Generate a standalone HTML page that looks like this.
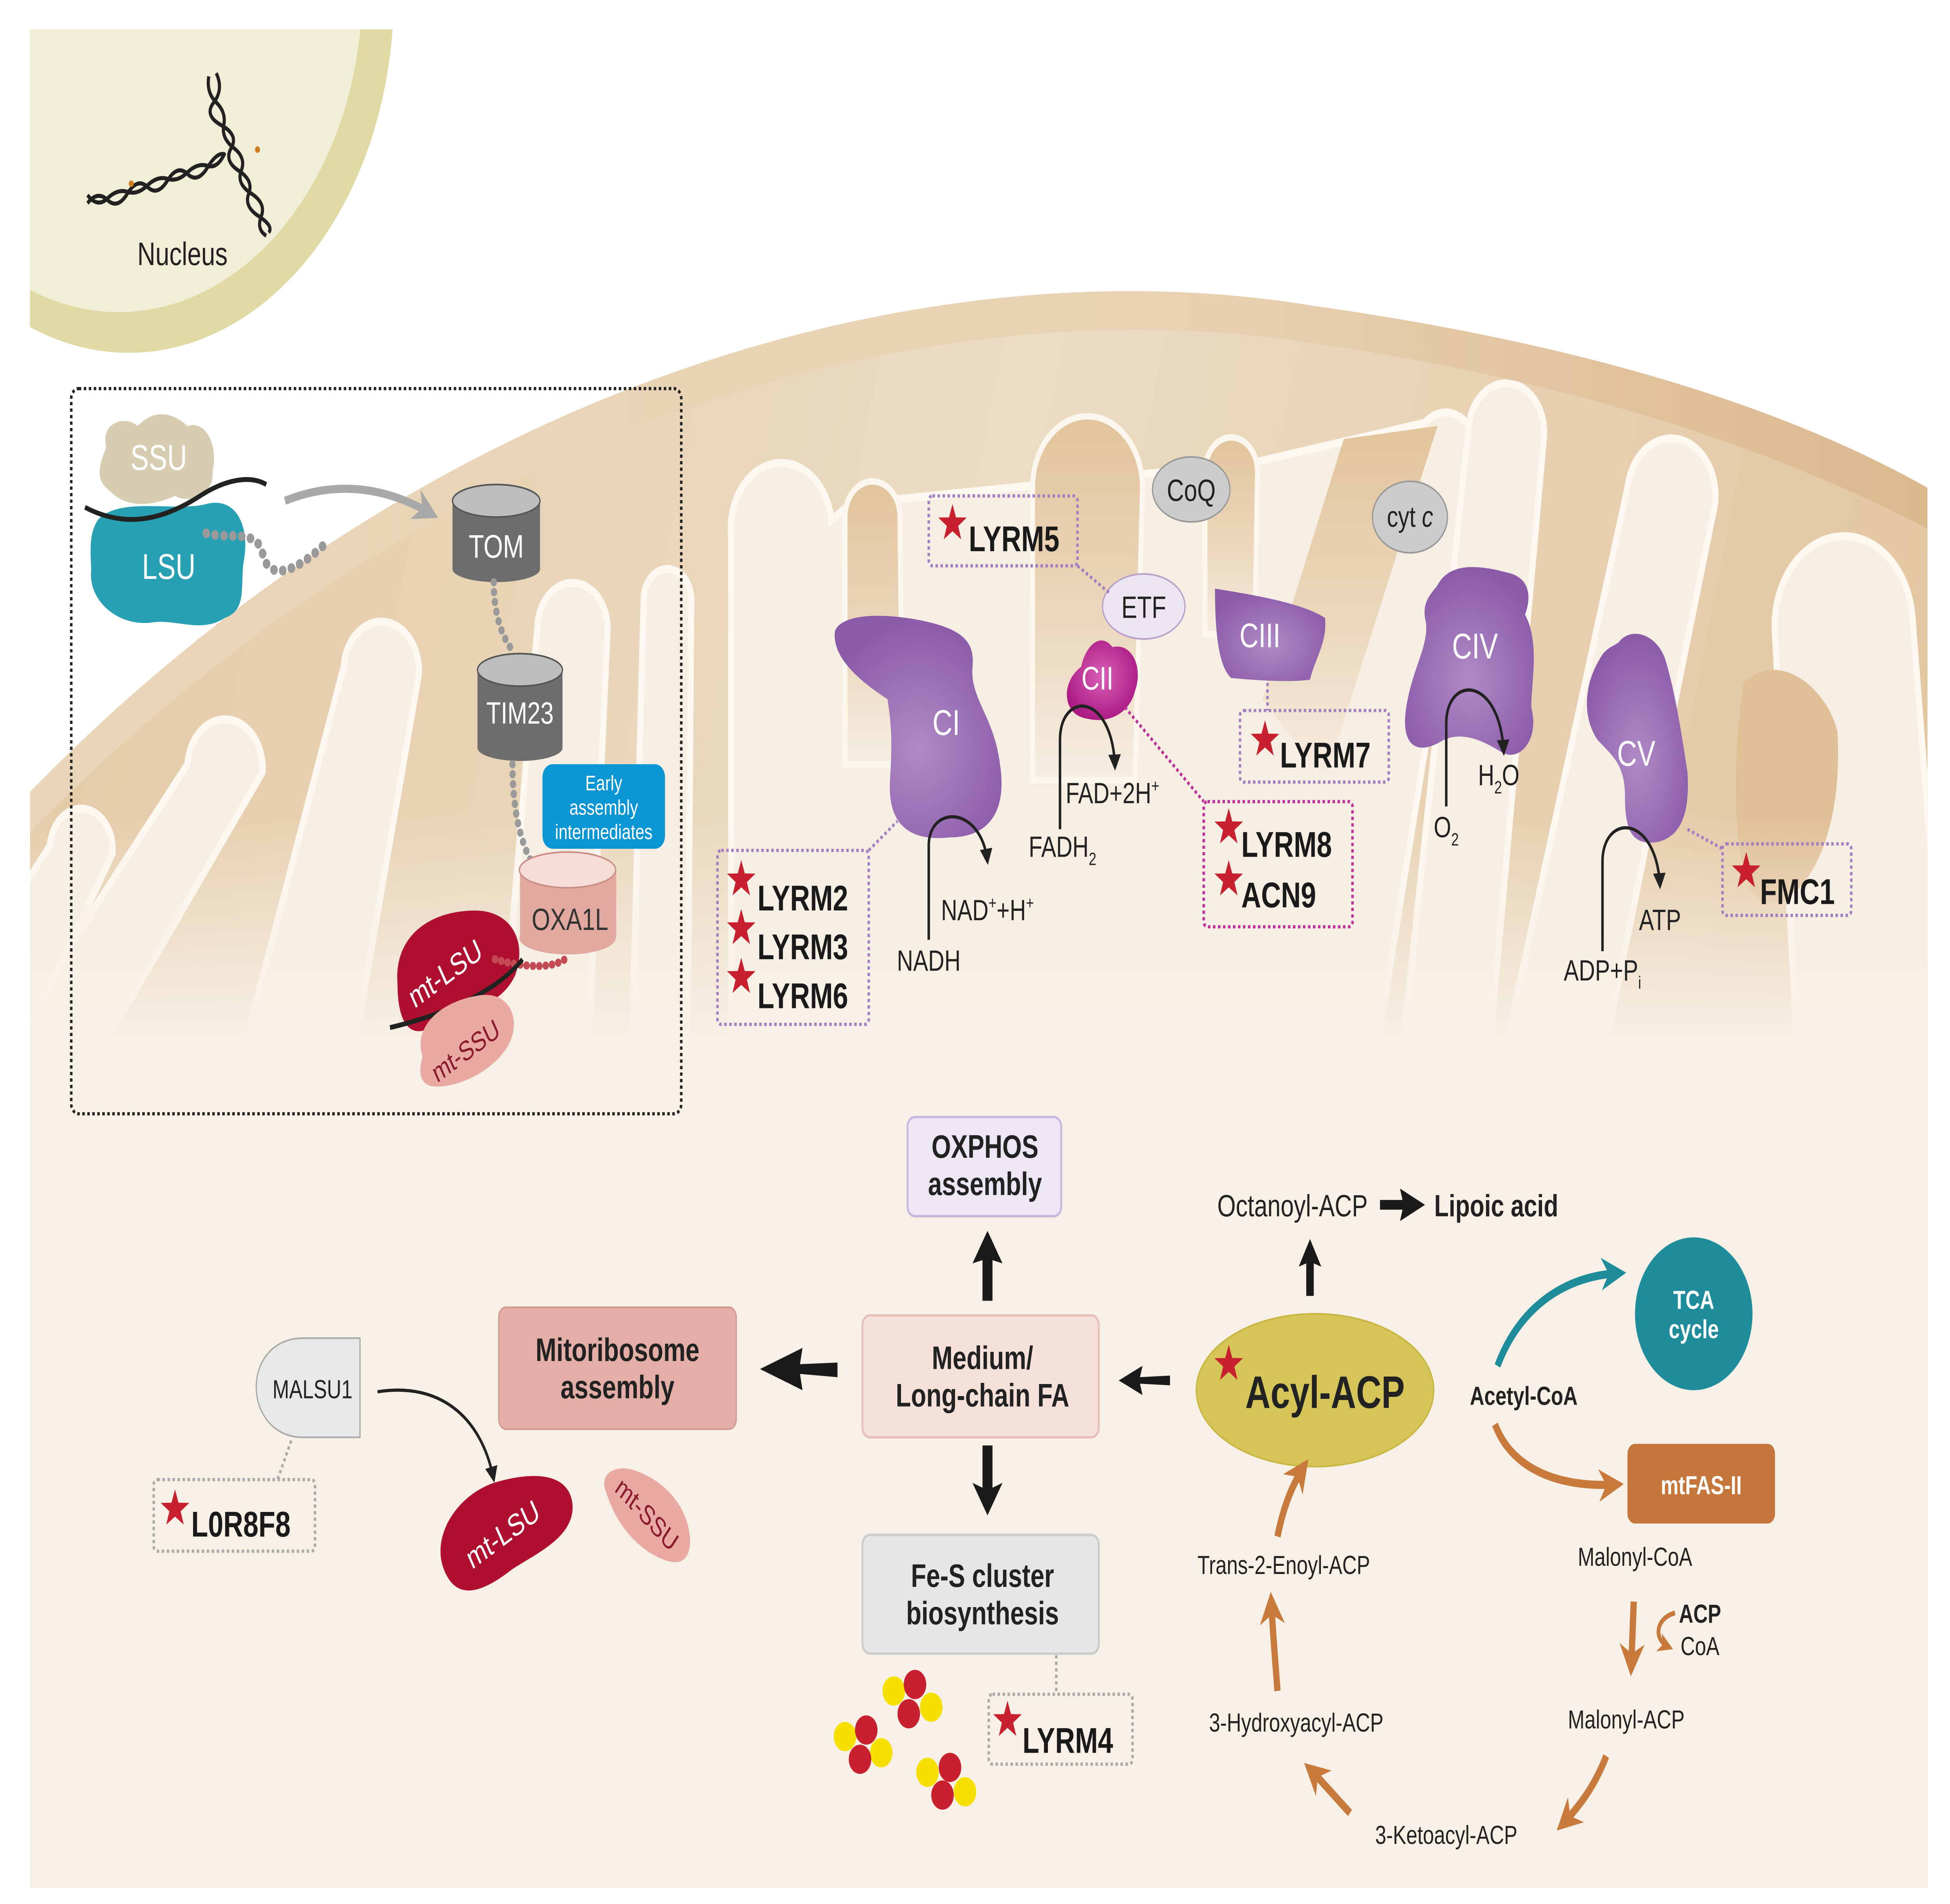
<!DOCTYPE html>
<html><head><meta charset="utf-8"><style>
html,body{margin:0;padding:0;background:#fff;overflow:hidden;width:100vw;height:100vh}
svg{display:block;position:absolute;left:0;top:0;width:100vw;height:100vh}
text{font-family:"Liberation Sans",sans-serif}
</style></head><body>
<svg viewBox="0 0 1560 1171" preserveAspectRatio="none" xmlns="http://www.w3.org/2000/svg">
<defs>
<linearGradient id="band" x1="0" y1="0" x2="1" y2="0"><stop offset="0" stop-color="#e9d5b8"/><stop offset="0.6" stop-color="#e8d2b3"/><stop offset="1" stop-color="#dcb88e"/></linearGradient>
<linearGradient id="inner" gradientUnits="userSpaceOnUse" x1="0" y1="200" x2="1560" y2="600"><stop offset="0" stop-color="#e4c9a4"/><stop offset="0.5" stop-color="#ecdcc4"/><stop offset="1" stop-color="#e2c59e"/></linearGradient>
<linearGradient id="fin" x1="0" y1="0" x2="0" y2="1"><stop offset="0" stop-color="#e2c49c"/><stop offset="0.6" stop-color="#ecd9bf"/><stop offset="1" stop-color="#f6eee3"/></linearGradient>
<linearGradient id="fade" x1="0" y1="0" x2="0" y2="1"><stop offset="0" stop-color="#f7f0e6" stop-opacity="0"/><stop offset="1" stop-color="#f7f0e6" stop-opacity="1"/></linearGradient>
<radialGradient id="purp" cx="0.5" cy="0.6" r="0.6"><stop offset="0" stop-color="#b08ac6"/><stop offset="1" stop-color="#8a5aa8"/></radialGradient>
<radialGradient id="mag" cx="0.5" cy="0.45" r="0.6"><stop offset="0" stop-color="#d860b8"/><stop offset="1" stop-color="#a8157f"/></radialGradient>
<clipPath id="cellclip"><rect x="24" y="18" width="1518" height="1143"/></clipPath>
<clipPath id="domeclip"><path d="M24,512 C350,255 750,175 1050,211 C1290,238 1440,285 1542,325 L1542,1161 L24,1161 Z"/></clipPath>
<symbol id="st" viewBox="-12 -12 24 24" overflow="visible"><polygon points="0,-12 2.8,-3.8 11.4,-3.7 4.5,1.5 7,9.7 0,4.7 -7,9.7 -4.5,1.5 -11.4,-3.7 -2.8,-3.8" fill="#c8202f"/></symbol>
<marker id="ah" viewBox="0 0 10 10" refX="8" refY="5" markerWidth="5" markerHeight="5" orient="auto"><path d="M0,0 L10,5 L0,10 Z" fill="#222"/></marker>
<marker id="aho" viewBox="0 0 10 10" refX="7" refY="5" markerWidth="4" markerHeight="4" orient="auto"><path d="M0,0 L10,5 L0,10 L3,5 Z" fill="#c77a3c"/></marker>
<marker id="aht" viewBox="0 0 10 10" refX="7" refY="5" markerWidth="4" markerHeight="4" orient="auto"><path d="M0,0 L10,5 L0,10 L3,5 Z" fill="#1f8c9c"/></marker>
<marker id="ahg" viewBox="0 0 10 10" refX="7" refY="5" markerWidth="4" markerHeight="4" orient="auto"><path d="M0,0 L10,5 L0,10 L3,5 Z" fill="#a9a9a9"/></marker>
</defs>

<g clip-path="url(#cellclip)">
<ellipse cx="103" cy="-3" rx="212" ry="220" fill="#e0d9a3"/>
<ellipse cx="95" cy="-8" rx="195" ry="200" fill="#f1eed7"/>
<path d="M24,487 C350,230 750,150 1050,188 C1300,215 1450,260 1542,300 L1542,1161 L24,1161 Z" fill="url(#band)"/>
<path d="M24,512 C350,255 750,175 1050,211 C1290,238 1440,285 1542,325 L1542,1161 L24,1161 Z" fill="url(#inner)"/>
<g clip-path="url(#domeclip)">
<g fill="#f6eee2" stroke="#fcf8f1" stroke-width="5">
<path d="M-10,660 L150,470 A30,30 0 0 1 210,475 L70,660 Z"/>
<path d="M-60,640 L40,520 A25,25 0 0 1 90,525 L20,640 Z"/>
<path d="M190,660 L275,410 A30,30 0 0 1 335,415 L280,660 Z"/>
<path d="M400,660 L430,385 A28,28 0 0 1 486,388 L470,660 Z"/>
<path d="M505,660 L515,368 A19,19 0 0 1 553,370 L550,660 Z"/>
<path d="M585,700 L585,330 A40,40 0 0 1 665,320 L680,310 L1000,285 L1140,260 A25,25 0 0 1 1180,270 L1090,700 Z"/>
<path d="M1120,660 L1175,262 A30,30 0 0 1 1235,270 L1190,660 Z"/>
<path d="M1200,660 L1302,300 A35,35 0 0 1 1372,310 L1280,660 Z"/>
<path d="M1440,680 L1420,390 A55,55 0 0 1 1530,380 L1560,680 Z"/>
</g>
<g stroke="#fbf6ee" stroke-width="4" fill="url(#fin)">
<path d="M676,470 L676,318 A22,22 0 0 1 720,318 L722,470 Z"/>
<path d="M826,480 L826,300 A44,44 0 0 1 914,300 L908,480 Z"/>
<path d="M964,390 L964,290 A21,21 0 0 1 1006,290 L1004,390 Z"/>
<path d="M1010,430 L1075,270 L1150,262 L1060,480 Z" stroke="none"/>
</g>
<path d="M1395,420 C1420,400 1460,420 1470,450 C1475,520 1440,560 1410,555 C1385,545 1385,470 1395,420 Z" fill="#dfbf96"/>
<rect x="24" y="500" width="1518" height="140" fill="url(#fade)"/>
<rect x="24" y="639" width="1518" height="530" fill="#f7f0e6"/>
</g>
</g>

<g fill="none" stroke="#222" stroke-width="2.5">
<path d="M70,125 q8,-8 16,-2 t16,-4 t16,-4 t16,-4 t16,-4 t16,-4 t14,-8"/>
<path d="M70,120 q8,8 16,2 t16,-4 t16,-4 t16,-4 t16,-4 t16,-4 t14,-8"/>
<path d="M167,47 q-2,10 6,16 t6,14 t8,14 t6,14 t8,14 t8,14 t4,12"/>
<path d="M173,45 q6,10 -2,18 t6,14 t8,14 t6,14 t8,14 t8,14 t8,10"/>
</g>
<circle cx="105" cy="113" r="2" fill="#d07a20"/><circle cx="206" cy="92" r="2" fill="#d07a20"/>
<text x="146" y="163" font-size="20" text-anchor="middle" fill="#222">Nucleus</text>

<rect x="57" y="239" width="488" height="446" rx="6" fill="none" stroke="#222" stroke-width="2" stroke-dasharray="2,2"/>
<path d="M85,275 C80,260 100,255 110,262 C125,250 140,255 150,262 C165,258 175,275 170,290 C172,305 150,310 140,305 C120,312 100,312 88,302 C75,295 80,285 85,275 Z" fill="#d7cdb0"/>
<text x="127" y="289" font-size="22" fill="#fff" text-anchor="middle">SSU</text>
<path d="M78,320 C95,305 140,315 165,310 C190,305 200,325 195,345 C192,360 198,375 180,380 C160,390 140,380 120,383 C95,385 70,370 73,350 C72,335 72,328 78,320 Z" fill="#27a0b3"/>
<text x="135" y="356" font-size="22" fill="#fff" text-anchor="middle">LSU</text>
<path d="M68,312 C100,325 130,320 160,305 C180,295 200,292 213,298" fill="none" stroke="#222" stroke-width="3"/>
<path d="M165,328 C185,332 205,325 210,340 C215,360 240,350 262,333" fill="none" stroke="#999" stroke-width="6" stroke-dasharray="0.1,7" stroke-linecap="round"/>
<path d="M228,308 C270,295 310,300 345,316" fill="none" stroke="#a9a9a9" stroke-width="5" marker-end="url(#ahg)"/>
<rect x="362" y="308" width="70" height="42" fill="#6d6d6d"/><ellipse cx="397" cy="350" rx="35" ry="8" fill="#6d6d6d"/>
<ellipse cx="397" cy="308" rx="35" ry="10" fill="#bdbdbd" stroke="#555"/>
<text x="397" y="343" font-size="20" fill="#fff" text-anchor="middle">TOM</text>
<path d="M395,358 C395,375 400,390 410,400" fill="none" stroke="#999" stroke-width="5" stroke-dasharray="0.1,6" stroke-linecap="round"/>
<rect x="382" y="412" width="68" height="48" fill="#6d6d6d"/><ellipse cx="416" cy="460" rx="34" ry="8" fill="#6d6d6d"/>
<ellipse cx="416" cy="412" rx="34" ry="10" fill="#bdbdbd" stroke="#555"/>
<text x="416" y="445" font-size="19" fill="#fff" text-anchor="middle">TIM23</text>
<path d="M410,470 C410,495 415,515 425,530" fill="none" stroke="#999" stroke-width="5" stroke-dasharray="0.1,6" stroke-linecap="round"/>
<rect x="434" y="470" width="98" height="52" rx="8" fill="#0b96d3"/>
<text x="483" y="486" font-size="13" fill="#fff" text-anchor="middle">Early</text>
<text x="483" y="501" font-size="13" fill="#fff" text-anchor="middle">assembly</text>
<text x="483" y="516" font-size="13" fill="#fff" text-anchor="middle">intermediates</text>
<rect x="416" y="535" width="77" height="42" fill="#e2a9a0"/><ellipse cx="454" cy="577" rx="38.5" ry="10" fill="#e2a9a0"/>
<ellipse cx="454" cy="535" rx="38.5" ry="11" fill="#f5ddd6" stroke="#c98f86"/>
<text x="456" y="572" font-size="19" fill="#333" text-anchor="middle">OXA1L</text>
<path d="M318,605 C315,575 345,560 380,560 C410,560 422,580 412,600 C400,620 370,622 345,632 C325,640 318,625 318,605 Z" fill="#b01030"/>
<text x="357" y="605" font-size="19" fill="#fff" text-anchor="middle" transform="rotate(-30 357 600)">mt-LSU</text>
<path d="M396,590 C420,595 440,596 452,590" fill="none" stroke="#c44a56" stroke-width="5" stroke-dasharray="0.1,5" stroke-linecap="round"/>
<path d="M312,632 C350,625 395,612 418,590" fill="none" stroke="#222" stroke-width="3"/>
<path d="M338,650 C330,630 355,615 385,612 C410,610 418,630 405,645 C390,662 360,670 345,668 C335,666 335,658 338,650 Z" fill="#e8aaa2"/>
<text x="373" y="652" font-size="17" fill="#8a1a2a" text-anchor="middle" transform="rotate(-30 373 647)">mt-SSU</text>

<ellipse cx="953" cy="301" rx="31" ry="20" fill="#cccccc" stroke="#999"/>
<text x="953" y="308" font-size="19" text-anchor="middle" fill="#222">CoQ</text>
<ellipse cx="1128" cy="318" rx="30" ry="22" fill="#cccccc" stroke="#999"/>
<text x="1128" y="324" font-size="18" text-anchor="middle" fill="#222">cyt <tspan font-style="italic">c</tspan></text>
<ellipse cx="915" cy="373" rx="33" ry="20" fill="#ece6f2" stroke="#b9a0cc"/>
<text x="915" y="380" font-size="19" text-anchor="middle" fill="#222">ETF</text>

<path d="M668,388 C675,375 720,378 745,383 C770,388 780,395 778,410 C776,430 795,440 800,470 C806,500 790,515 760,515 C725,518 710,505 712,480 C714,455 713,445 710,430 C690,420 665,405 668,388 Z" fill="url(#purp)"/>
<text x="757" y="452" font-size="22" fill="#fff" text-anchor="middle">CI</text>
<path d="M865,410 C868,398 880,388 890,398 C905,395 915,410 908,425 C903,440 885,445 870,442 C850,440 848,420 865,410 Z" fill="url(#mag)"/>
<text x="878" y="424" font-size="20" fill="#fff" text-anchor="middle">CII</text>
<path d="M972,362 C995,365 1040,370 1060,380 C1062,395 1052,405 1048,418 C1030,420 1000,418 985,417 C975,410 972,390 972,362 Z" fill="url(#purp)"/>
<text x="1008" y="398" font-size="21" fill="#fff" text-anchor="middle">CIII</text>
<path d="M1150,360 C1160,345 1185,348 1205,352 C1225,355 1225,368 1220,378 C1232,395 1225,420 1225,435 C1232,455 1215,470 1200,462 C1185,455 1170,450 1155,455 C1135,465 1120,460 1125,435 C1130,410 1145,395 1140,380 C1138,370 1145,365 1150,360 Z" fill="url(#purp)"/>
<text x="1180" y="405" font-size="22" fill="#fff" text-anchor="middle">CIV</text>
<path d="M1295,395 C1305,385 1325,390 1332,405 C1340,425 1345,450 1350,475 C1352,500 1345,515 1325,518 C1305,520 1300,510 1300,490 C1300,470 1290,465 1278,455 C1265,440 1268,420 1280,405 C1285,398 1290,398 1295,395 Z" fill="url(#purp)"/>
<text x="1309" y="471" font-size="22" fill="#fff" text-anchor="middle">CV</text>

<g fill="none" stroke="#222" stroke-width="2">
<path d="M743,578 L743,520 C743,495 785,495 790,530" marker-end="url(#ah)"/>
<path d="M848,510 L848,455 C848,425 890,425 892,472" marker-end="url(#ah)"/>
<path d="M1157,496 L1157,445 C1157,415 1200,415 1203,463" marker-end="url(#ah)"/>
<path d="M1282,585 L1282,530 C1282,500 1325,500 1328,545" marker-end="url(#ah)"/>
</g>
<g font-size="18" fill="#222" text-anchor="middle">
<text x="790" y="566">NAD<tspan font-size="11" dy="-7">+</tspan><tspan dy="7">+H</tspan><tspan font-size="11" dy="-7">+</tspan></text>
<text x="743" y="597">NADH</text>
<text x="890" y="494">FAD+2H<tspan font-size="11" dy="-7">+</tspan></text>
<text x="850" y="527">FADH<tspan font-size="11" dy="5">2</tspan></text>
<text x="1199" y="483">H<tspan font-size="11" dy="5">2</tspan><tspan dy="-5">O</tspan></text>
<text x="1157" y="515">O<tspan font-size="11" dy="5">2</tspan></text>
<text x="1328" y="572">ATP</text>
<text x="1282" y="603">ADP+P<tspan font-size="11" dy="5">i</tspan></text>
</g>

<g fill="none" stroke-width="2" stroke-dasharray="2,2">
<rect x="743" y="305" width="119" height="43" rx="3" stroke="#a37ec0"/>
<path d="M862,348 L888,365" stroke="#a37ec0"/>
<rect x="574" y="523" width="121" height="107" rx="3" stroke="#a37ec0"/>
<path d="M695,523 L718,505" stroke="#a37ec0"/>
<rect x="992" y="437" width="119" height="44" rx="3" stroke="#a37ec0"/>
<path d="M1014,420 L1014,437" stroke="#a37ec0"/>
<rect x="963" y="493" width="119" height="77" rx="3" stroke="#c0309a"/>
<path d="M900,435 L963,493" stroke="#c0309a"/>
<rect x="1378" y="519" width="103" height="44" rx="3" stroke="#a37ec0"/>
<path d="M1350,510 L1378,522" stroke="#a37ec0"/>
<rect x="123" y="910" width="129" height="44" rx="3" stroke="#aaa"/>
<path d="M233,886 L222,910" stroke="#aaa"/>
<rect x="791" y="1042" width="115" height="43" rx="3" stroke="#aaa"/>
<path d="M845,1018 L845,1042" stroke="#aaa"/>
</g>
<g font-size="22" font-weight="bold" fill="#1a1a1a">
<text x="775" y="339">LYRM5</text>
<text x="606" y="560">LYRM2</text>
<text x="606" y="590">LYRM3</text>
<text x="606" y="620">LYRM6</text>
<text x="1024" y="472">LYRM7</text>
<text x="993" y="527">LYRM8</text>
<text x="993" y="558">ACN9</text>
<text x="1408" y="556">FMC1</text>
<text x="153" y="945">L0R8F8</text>
<text x="818" y="1078">LYRM4</text>
</g>
<use href="#st" x="750" y="310" width="24" height="24"/>
<use href="#st" x="581" y="529" width="24" height="24"/>
<use href="#st" x="581" y="559" width="24" height="24"/>
<use href="#st" x="581" y="589" width="24" height="24"/>
<use href="#st" x="1000" y="443" width="24" height="24"/>
<use href="#st" x="971" y="497" width="24" height="24"/>
<use href="#st" x="971" y="529" width="24" height="24"/>
<use href="#st" x="1385" y="524" width="24" height="24"/>
<use href="#st" x="128" y="916" width="24" height="24"/>
<use href="#st" x="794" y="1046" width="24" height="24"/>

<rect x="726" y="687" width="123" height="61" rx="6" fill="#ece6f5" stroke="#c9b8dd" stroke-width="1.5"/>
<text x="788" y="712" font-size="20" font-weight="bold" text-anchor="middle" fill="#222">OXPHOS</text>
<text x="788" y="735" font-size="20" font-weight="bold" text-anchor="middle" fill="#222">assembly</text>
<rect x="690" y="809" width="189" height="75" rx="6" fill="#f6e0da" stroke="#e8c0b8" stroke-width="1.5"/>
<text x="786" y="842" font-size="20" font-weight="bold" text-anchor="middle" fill="#222">Medium/</text>
<text x="786" y="865" font-size="20" font-weight="bold" text-anchor="middle" fill="#222">Long-chain FA</text>
<rect x="399" y="804" width="190" height="75" rx="6" fill="#e3aea5" stroke="#d49a90" stroke-width="1"/>
<text x="494" y="837" font-size="20" font-weight="bold" text-anchor="middle" fill="#222">Mitoribosome</text>
<text x="494" y="860" font-size="20" font-weight="bold" text-anchor="middle" fill="#222">assembly</text>
<rect x="690" y="944" width="189" height="73" rx="6" fill="#e6e6e6" stroke="#cccccc" stroke-width="1.5"/>
<text x="786" y="976" font-size="20" font-weight="bold" text-anchor="middle" fill="#222">Fe-S cluster</text>
<text x="786" y="999" font-size="20" font-weight="bold" text-anchor="middle" fill="#222">biosynthesis</text>

<g fill="#1a1a1a">
<path d="M786,800 L786,775 L778,777 L790,757 L802,777 L794,775 L794,800 Z"/>
<path d="M670,838 L670,847 L640,845 L642,855 L608,842 L642,829 L640,839 Z"/>
<path d="M786,889 L794,889 L794,915 L802,912 L790,932 L778,912 L786,915 Z"/>
<path d="M936,846 L936,852 L912,851 L914,858 L895,849 L914,840 L912,847 Z"/>
<path d="M1045,797 L1051,797 L1051,777 L1057,779 L1048,762 L1039,779 L1045,777 Z"/>
<path d="M1104,738 L1122,738 L1120,731 L1140,741 L1120,751 L1122,744 L1104,744 Z"/>
</g>

<ellipse cx="1052" cy="855" rx="95" ry="47" fill="#d5c457" stroke="#c8b640"/>
<use href="#st" x="971" y="827" width="24" height="24"/>
<text x="1060" y="866" font-size="28" font-weight="bold" text-anchor="middle" fill="#222">Acyl-ACP</text>
<text x="1034" y="748" font-size="19" text-anchor="middle" fill="#222">Octanoyl-ACP</text>
<text x="1197" y="748" font-size="19" font-weight="bold" text-anchor="middle" fill="#222">Lipoic acid</text>

<ellipse cx="1355" cy="808" rx="47" ry="47" fill="#1f8c9c"/>
<text x="1355" y="805" font-size="16" font-weight="bold" fill="#fff" text-anchor="middle">TCA</text>
<text x="1355" y="823" font-size="16" font-weight="bold" fill="#fff" text-anchor="middle">cycle</text>
<path d="M1198,840 C1215,805 1250,785 1295,783" fill="none" stroke="#1f8c9c" stroke-width="5" marker-end="url(#aht)"/>
<text x="1219" y="864" font-size="16" font-weight="bold" text-anchor="middle" fill="#222">Acetyl-CoA</text>
<path d="M1196,876 C1210,905 1250,915 1293,913" fill="none" stroke="#c77a3c" stroke-width="5" marker-end="url(#aho)"/>
<rect x="1302" y="888" width="118" height="49" rx="6" fill="#c5763a"/>
<text x="1361" y="919" font-size="16" font-weight="bold" fill="#fff" text-anchor="middle">mtFAS-II</text>

<g font-size="16" fill="#222" text-anchor="middle">
<text x="1308" y="963">Malonyl-CoA</text>
<text x="1301" y="1063">Malonyl-ACP</text>
<text x="1157" y="1134">3-Ketoacyl-ACP</text>
<text x="1037" y="1065">3-Hydroxyacyl-ACP</text>
<text x="1027" y="968">Trans-2-Enoyl-ACP</text>
<text x="1360" y="998" font-weight="bold">ACP</text>
<text x="1360" y="1018">CoA</text>
</g>
<g fill="none" stroke="#c77a3c" stroke-width="5">
<path d="M1307,985 L1305,1025" marker-end="url(#aho)"/>
<path d="M1285,1080 C1275,1100 1262,1112 1250,1122" marker-end="url(#aho)"/>
<path d="M1080,1115 C1068,1105 1058,1096 1048,1088" marker-end="url(#aho)"/>
<path d="M1022,1040 C1020,1020 1018,1000 1017,985" marker-end="url(#aho)"/>
<path d="M1022,945 C1027,925 1035,912 1043,902" marker-end="url(#aho)"/>
</g>
<path d="M1340,992 C1325,995 1322,1008 1335,1013" fill="none" stroke="#c77a3c" stroke-width="3" marker-end="url(#aho)"/>

<path d="M288,823 L288,884 L242,884 C220,884 205,870 205,853 C205,836 220,823 242,823 Z" fill="#e8e8e8" stroke="#aaa"/>
<text x="250" y="860" font-size="16" text-anchor="middle" fill="#222">MALSU1</text>
<path d="M302,856 C350,850 385,870 395,910" fill="none" stroke="#222" stroke-width="2" marker-end="url(#ah)"/>
<path d="M355,965 C345,945 365,920 395,912 C425,905 455,905 458,925 C460,945 430,955 410,965 C385,980 365,985 355,965 Z" fill="#b01030"/>
<text x="403" y="950" font-size="19" fill="#fff" text-anchor="middle" transform="rotate(-30 403 945)">mt-LSU</text>
<path d="M485,918 C478,905 495,900 510,905 C535,912 553,930 552,950 C550,965 535,962 520,955 C500,945 490,930 485,918 Z" fill="#e8aaa2"/>
<text x="517" y="937" font-size="17" fill="#8a1a2a" text-anchor="middle" transform="rotate(40 517 932)">mt-SSU</text>

<g>
<circle cx="715" cy="1040" r="9" fill="#f5e000"/><circle cx="732" cy="1036" r="9" fill="#c8202f"/>
<circle cx="745" cy="1050" r="9" fill="#f5e000"/><circle cx="727" cy="1054" r="9" fill="#c8202f"/>
<circle cx="676" cy="1068" r="9" fill="#f5e000"/><circle cx="693" cy="1064" r="9" fill="#c8202f"/>
<circle cx="705" cy="1078" r="9" fill="#f5e000"/><circle cx="688" cy="1082" r="9" fill="#c8202f"/>
<circle cx="742" cy="1090" r="9" fill="#f5e000"/><circle cx="760" cy="1087" r="9" fill="#c8202f"/>
<circle cx="772" cy="1102" r="9" fill="#f5e000"/><circle cx="754" cy="1104" r="9" fill="#c8202f"/>
</g>
</svg>
</body></html>
